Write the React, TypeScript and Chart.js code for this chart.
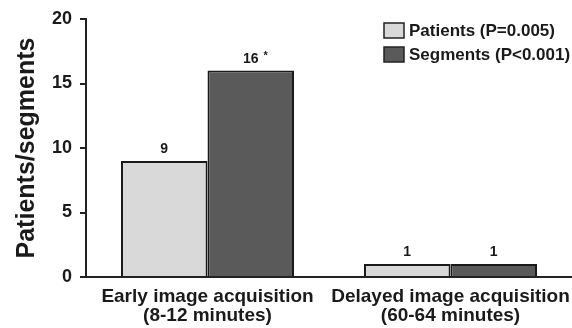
import React, { useEffect, useRef } from "react";
import { Chart, registerables } from "chart.js";

Chart.register(...registerables);

const categories: string[][] = [
  ["Early image acquisition", "(8-12 minutes)"],
  ["Delayed image acquisition", "(60-64 minutes)"],
];
const seriesNames = ["Patients (P=0.005)", "Segments (P<0.001)"];
const patients = [9, 1];
const segments = [16, 1];
const valueLabels = [
  ["9", "1"],
  ["16", "1"],
];
const asterisks = [
  [false, false],
  [true, false],
];
const yTicks = [0, 5, 10, 15, 20];
const colors = ["#d9d9d9", "#5a5a5a"];

const FONT = "'Liberation Sans', Arial, sans-serif";

const labelPlugin = {
  id: "valueLabels",
  afterDatasetsDraw(chart: any) {
    const ctx = chart.ctx;
    ctx.save();
    ctx.fillStyle = "#1a1a1a";
    ctx.textAlign = "center";
    ctx.textBaseline = "alphabetic";
    chart.data.datasets.forEach((ds: any, di: number) => {
      const meta = chart.getDatasetMeta(di);
      meta.data.forEach((bar: any, i: number) => {
        ctx.font = `bold 14px ${FONT}`;
        ctx.fillText(valueLabels[di][i], bar.x, bar.y - 8);
        if (asterisks[di][i]) {
          ctx.font = `bold 11px ${FONT}`;
          ctx.fillText("*", bar.x + 15, bar.y - 12);
        }
      });
    });
    ctx.restore();
  },
};

const legendPlugin = {
  id: "customLegend",
  afterDraw(chart: any) {
    const ctx = chart.ctx;
    ctx.save();
    ctx.font = `bold 17px ${FONT}`;
    ctx.textBaseline = "middle";
    ctx.textAlign = "left";
    seriesNames.forEach((name, i) => {
      const x = 384;
      const y = 23 + i * 24;
      ctx.fillStyle = colors[i];
      ctx.fillRect(x, y, 20, 15);
      ctx.strokeStyle = "#222";
      ctx.lineWidth = 1.5;
      ctx.strokeRect(x, y, 20, 15);
      ctx.fillStyle = "#1a1a1a";
      ctx.fillText(name, 409, y + 8);
    });
    ctx.restore();
  },
};

export default function App() {
  const ref = useRef<HTMLCanvasElement>(null);
  useEffect(() => {
    document.body.style.margin = "0";
    const chart = new Chart(ref.current!, {
      type: "bar",
      data: {
        labels: categories,
        datasets: [
          {
            label: seriesNames[0],
            data: patients,
            backgroundColor: colors[0],
            borderColor: "#1a1a1a",
            borderWidth: 2,
            barPercentage: 1,
            categoryPercentage: 0.712,
          },
          {
            label: seriesNames[1],
            data: segments,
            backgroundColor: colors[1],
            borderColor: "#1a1a1a",
            borderWidth: 2,
            barPercentage: 1,
            categoryPercentage: 0.712,
          },
        ],
      },
      options: {
        animation: false,
        responsive: false,
        layout: { padding: { top: 19, right: 0, left: 12, bottom: 0 } },
        plugins: { legend: { display: false }, tooltip: { enabled: false } },
        scales: {
          x: {
            grid: { display: false, drawTicks: false },
            border: { display: true, color: "#222", width: 2 },
            afterFit: (scale: any) => {
              scale.height = 51;
              scale.paddingLeft = 0;
              scale.paddingRight = 0;
            },
            ticks: {
              color: "#1a1a1a",
              font: { family: FONT, size: 19, weight: "bold", lineHeight: 1.0 },
              padding: 10,
              maxRotation: 0,
              autoSkip: false,
            },
          },
          y: {
            min: 0,
            max: 20,
            afterBuildTicks: (scale: any) => {
              scale.ticks = yTicks.map((v) => ({ value: v }));
            },
            afterFit: (scale: any) => {
              scale.width = 74;
            },
            grid: {
              display: true,
              drawOnChartArea: false,
              drawTicks: true,
              tickLength: 6,
              color: "#222",
              lineWidth: 2,
            },
            border: { display: true, color: "#222", width: 2 },
            ticks: {
              color: "#1a1a1a",
              font: { family: FONT, size: 18, weight: "bold" },
              padding: 8,
            },
            title: {
              display: true,
              text: "Patients/segments",
              color: "#1a1a1a",
              font: { family: FONT, size: 25, weight: "bold" },
              padding: 0,
            },
          },
        },
      },
      plugins: [labelPlugin, legendPlugin],
    });
    return () => chart.destroy();
  }, []);
  return (
    <div style={{ position: "absolute", left: 0, top: 0, width: 572, height: 328, background: "#fff" }}>
      <canvas ref={ref} width={572} height={328} />
    </div>
  );
}
